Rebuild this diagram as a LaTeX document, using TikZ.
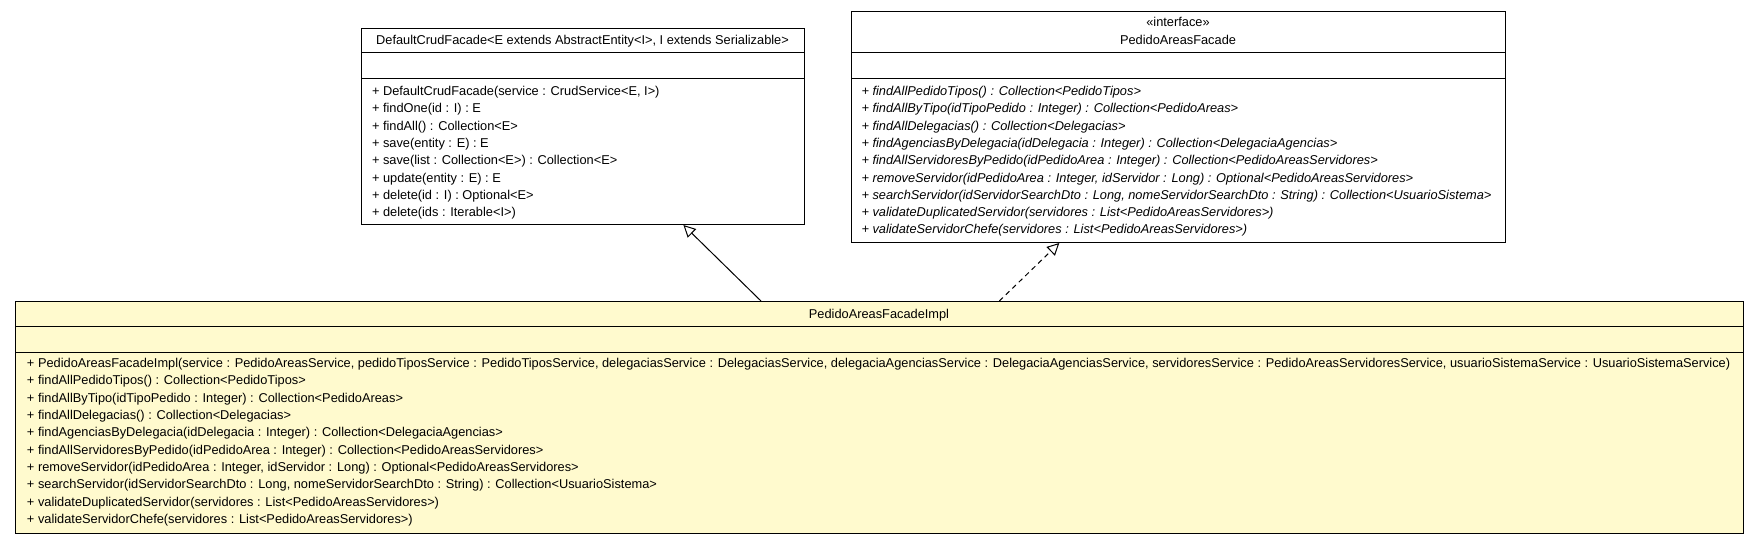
\documentclass[tikz,border=0pt]{standalone}
\usepackage{fontspec}
\setmainfont{Liberation Sans}
\usetikzlibrary{arrows.meta}
\definecolor{implyellow}{RGB}{255,250,206}

\begin{document}
\begin{tikzpicture}[x=1pt,y=-1pt,line width=1pt,font=\fontsize{12.8}{16}\selectfont]
  \tikzstyle{classbox}=[draw=black,anchor=north west,inner sep=0pt]
  \tikzstyle{classtitle}=[anchor=base,inner sep=0pt]
  \tikzstyle{member}=[anchor=base west,inner sep=0pt]
  \useasboundingbox (0,0) rectangle (1760,544);
  % class boxes
  \node[classbox,minimum width=443pt,minimum height=196.3pt] (crud) at (361,27.7) {};
  \node[classbox,minimum width=654pt,minimum height=231.3pt] (facade) at (851,10.7) {};
  \node[classbox,fill=implyellow,minimum width=1728pt,minimum height=232pt] (impl) at (15,301) {};
  % compartments
  \draw ([yshift=-25pt]crud.north west) -- ([yshift=-25pt]crud.north east);
  \draw ([yshift=-51pt]crud.north west) -- ([yshift=-51pt]crud.north east);
  \draw ([yshift=-42pt]facade.north west) -- ([yshift=-42pt]facade.north east);
  \draw ([yshift=-68pt]facade.north west) -- ([yshift=-68pt]facade.north east);
  \draw ([yshift=-25pt]impl.north west) -- ([yshift=-25pt]impl.north east);
  \draw ([yshift=-51pt]impl.north west) -- ([yshift=-51pt]impl.north east);
  % names
  \node[classtitle] (crud_t) at (582.5,44.4) {DefaultCrudFacade<E extends AbstractEntity<I>, I extends Serializable>};
  \node[classtitle] (facade_s) at (1178,26.7) {«interface»};
  \node[classtitle] (facade_t) at (1178,44.2) {PedidoAreasFacade};
  \node[classtitle] (impl_t) at (879,318) {PedidoAreasFacadeImpl};
  % operations
  \foreach \m [count=\i from 0] in {{+ DefaultCrudFacade(service : CrudService<E, I>)},
      {+ findOne(id : I) : E}, {+ findAll() : Collection<E>}, {+ save(entity : E) : E},
      {+ save(list : Collection<E>) : Collection<E>}, {+ update(entity : E) : E},
      {+ delete(id : I) : Optional<E>}, {+ delete(ids : Iterable<I>)}}
    \node[member] (crud_m\i) at (371.5,95.5+17.3*\i) {\m};
  \foreach \m [count=\i from 0] in {{+ findAllPedidoTipos() : Collection<PedidoTipos>},
      {+ findAllByTipo(idTipoPedido : Integer) : Collection<PedidoAreas>},
      {+ findAllDelegacias() : Collection<Delegacias>},
      {+ findAgenciasByDelegacia(idDelegacia : Integer) : Collection<DelegaciaAgencias>},
      {+ findAllServidoresByPedido(idPedidoArea : Integer) : Collection<PedidoAreasServidores>},
      {+ removeServidor(idPedidoArea : Integer, idServidor : Long) : Optional<PedidoAreasServidores>},
      {+ searchServidor(idServidorSearchDto : Long, nomeServidorSearchDto : String) : Collection<UsuarioSistema>},
      {+ validateDuplicatedServidor(servidores : List<PedidoAreasServidores>)},
      {+ validateServidorChefe(servidores : List<PedidoAreasServidores>)}}
    \node[member] (facade_m\i) at (861,95.5+17.3*\i) {\itshape\m};
  \foreach \m [count=\i from 0] in {{+ PedidoAreasFacadeImpl(service : PedidoAreasService, pedidoTiposService : PedidoTiposService, delegaciasService : DelegaciasService, delegaciaAgenciasService : DelegaciaAgenciasService, servidoresService : PedidoAreasServidoresService, usuarioSistemaService : UsuarioSistemaService)},
      {+ findAllPedidoTipos() : Collection<PedidoTipos>},
      {+ findAllByTipo(idTipoPedido : Integer) : Collection<PedidoAreas>},
      {+ findAllDelegacias() : Collection<Delegacias>},
      {+ findAgenciasByDelegacia(idDelegacia : Integer) : Collection<DelegaciaAgencias>},
      {+ findAllServidoresByPedido(idPedidoArea : Integer) : Collection<PedidoAreasServidores>},
      {+ removeServidor(idPedidoArea : Integer, idServidor : Long) : Optional<PedidoAreasServidores>},
      {+ searchServidor(idServidorSearchDto : Long, nomeServidorSearchDto : String) : Collection<UsuarioSistema>},
      {+ validateDuplicatedServidor(servidores : List<PedidoAreasServidores>)},
      {+ validateServidorChefe(servidores : List<PedidoAreasServidores>)}}
    \node[member] (impl_m\i) at (26.5,367.6+17.3*\i) {\m};
  % generalization and realization
  \draw[-{Triangle[open,length=12pt,width=12pt]}] (impl) -- (crud);
  \draw[dash pattern=on 5pt off 4pt,-{Triangle[open,length=12pt,width=12pt]}] (impl) -- (facade);
\end{tikzpicture}
\end{document}
